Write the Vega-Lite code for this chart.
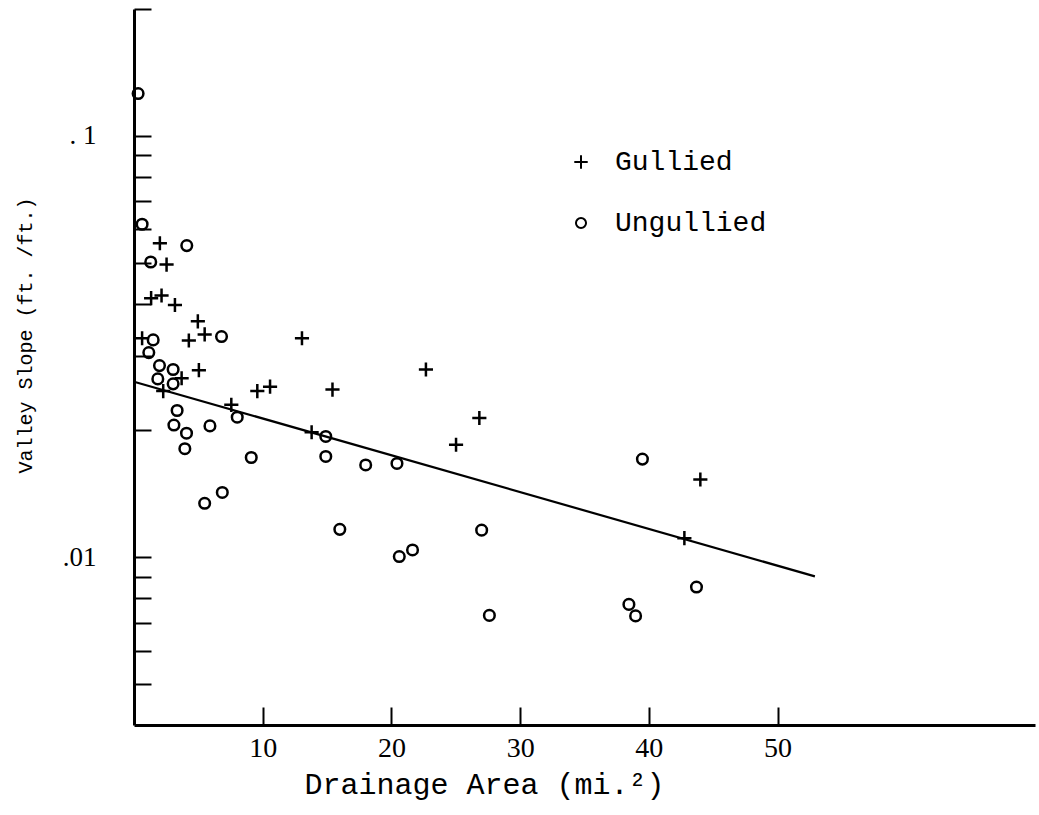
{
  "$schema": "https://vega.github.io/schema/vega-lite/v6.json",
  "width": 901,
  "height": 716,
  "autosize": {"type": "none"},
  "padding": {"left": 134, "top": 9, "right": 4, "bottom": 90},
  "background": "white",
  "config": {
    "view": {"stroke": null},
    "font": "Liberation Mono",
    "axis": {
      "grid": false,
      "domainColor": "black",
      "domainWidth": 3,
      "tickColor": "black",
      "tickWidth": 2,
      "labelColor": "black",
      "titleColor": "black",
      "labelFont": "Liberation Serif",
      "titleFont": "Liberation Mono",
      "titleFontWeight": "normal"
    }
  },
  "datasets": {
    "pts": [
      {"area": 2.01, "slope": 0.0556, "group": "Gullied"},
      {"area": 2.53, "slope": 0.0495, "group": "Gullied"},
      {"area": 1.33, "slope": 0.0412, "group": "Gullied"},
      {"area": 2.14, "slope": 0.0418, "group": "Gullied"},
      {"area": 3.18, "slope": 0.0397, "group": "Gullied"},
      {"area": 4.96, "slope": 0.0363, "group": "Gullied"},
      {"area": 4.26, "slope": 0.0327, "group": "Gullied"},
      {"area": 5.49, "slope": 0.0338, "group": "Gullied"},
      {"area": 0.63, "slope": 0.0331, "group": "Gullied"},
      {"area": 13.05, "slope": 0.0331, "group": "Gullied"},
      {"area": 3.7, "slope": 0.0266, "group": "Gullied"},
      {"area": 5.04, "slope": 0.0278, "group": "Gullied"},
      {"area": 2.27, "slope": 0.0248, "group": "Gullied"},
      {"area": 9.58, "slope": 0.0248, "group": "Gullied"},
      {"area": 10.57, "slope": 0.0254, "group": "Gullied"},
      {"area": 15.42, "slope": 0.025, "group": "Gullied"},
      {"area": 7.56, "slope": 0.023, "group": "Gullied"},
      {"area": 13.8, "slope": 0.0198, "group": "Gullied"},
      {"area": 22.68, "slope": 0.0279, "group": "Gullied"},
      {"area": 26.83, "slope": 0.0214, "group": "Gullied"},
      {"area": 25.02, "slope": 0.0185, "group": "Gullied"},
      {"area": 44.0, "slope": 0.0153, "group": "Gullied"},
      {"area": 42.76, "slope": 0.0111, "group": "Gullied"},
      {"area": 0.32, "slope": 0.126, "group": "Ungullied"},
      {"area": 0.63, "slope": 0.0617, "group": "Ungullied"},
      {"area": 4.1, "slope": 0.0549, "group": "Ungullied"},
      {"area": 1.3, "slope": 0.0502, "group": "Ungullied"},
      {"area": 6.8, "slope": 0.0334, "group": "Ungullied"},
      {"area": 1.49, "slope": 0.0328, "group": "Ungullied"},
      {"area": 1.15, "slope": 0.0306, "group": "Ungullied"},
      {"area": 1.98, "slope": 0.0285, "group": "Ungullied"},
      {"area": 3.04, "slope": 0.0279, "group": "Ungullied"},
      {"area": 1.85, "slope": 0.0265, "group": "Ungullied"},
      {"area": 3.04, "slope": 0.0258, "group": "Ungullied"},
      {"area": 3.35, "slope": 0.0223, "group": "Ungullied"},
      {"area": 8.02, "slope": 0.0215, "group": "Ungullied"},
      {"area": 3.1, "slope": 0.0206, "group": "Ungullied"},
      {"area": 5.9, "slope": 0.0205, "group": "Ungullied"},
      {"area": 4.08, "slope": 0.0197, "group": "Ungullied"},
      {"area": 14.9, "slope": 0.01935, "group": "Ungullied"},
      {"area": 3.95, "slope": 0.0181, "group": "Ungullied"},
      {"area": 9.11, "slope": 0.01725, "group": "Ungullied"},
      {"area": 14.9, "slope": 0.01735, "group": "Ungullied"},
      {"area": 18.0, "slope": 0.01656, "group": "Ungullied"},
      {"area": 20.43, "slope": 0.0167, "group": "Ungullied"},
      {"area": 39.5, "slope": 0.0171, "group": "Ungullied"},
      {"area": 6.86, "slope": 0.01425, "group": "Ungullied"},
      {"area": 5.49, "slope": 0.01343, "group": "Ungullied"},
      {"area": 15.99, "slope": 0.01165, "group": "Ungullied"},
      {"area": 27.01, "slope": 0.0116, "group": "Ungullied"},
      {"area": 21.64, "slope": 0.01041, "group": "Ungullied"},
      {"area": 20.61, "slope": 0.01004, "group": "Ungullied"},
      {"area": 43.7, "slope": 0.0085, "group": "Ungullied"},
      {"area": 38.45, "slope": 0.00773, "group": "Ungullied"},
      {"area": 38.97, "slope": 0.00726, "group": "Ungullied"},
      {"area": 27.61, "slope": 0.00728, "group": "Ungullied"}
    ],
    "fit": [
      {"area": 0, "slope": 0.0261},
      {"area": 52.9, "slope": 0.00901}
    ]
  },
  "encoding": {
    "x": {
      "field": "area",
      "type": "quantitative",
      "scale": {"domain": [0, 70], "nice": false, "zero": false},
      "axis": {
        "values": [10, 20, 30, 40, 50],
        "tickSize": -18,
        "labelFontSize": 28,
        "labelPadding": 27,
        "title": "Drainage Area (mi.²)",
        "titleFontSize": 30,
        "titleX": 350,
        "titleY": 68,
        "titleAlign": "center",
        "titleBaseline": "alphabetic"
      }
    },
    "y": {
      "field": "slope",
      "type": "quantitative",
      "scale": {"type": "log", "domain": [0.004, 0.2], "nice": false},
      "axis": {
        "values": [0.005, 0.006, 0.007, 0.008, 0.009, 0.01, 0.02, 0.03, 0.04, 0.05, 0.06, 0.07, 0.08, 0.09, 0.1, 0.2],
        "labelExpr": "datum.value == 0.1 ? '. 1' : (datum.value == 0.01 ? '.01' : '')",
        "tickSize": -17,
        "labelFontSize": 27,
        "labelPadding": 55,
        "title": "Valley Slope (ft. /ft.)",
        "titleFontSize": 20,
        "titleX": -109,
        "titleY": 326,
        "titleAlign": "center",
        "titleBaseline": "middle"
      }
    }
  },
  "layer": [
    {
      "data": {"name": "fit"},
      "mark": {"type": "line", "color": "black", "strokeWidth": 2.2},
      "encoding": {}
    },
    {
      "data": {"name": "pts"},
      "mark": {"type": "point", "filled": false, "color": "black", "strokeWidth": 2.5, "opacity": 1, "size": 200},
      "encoding": {
        "shape": {
          "field": "group",
          "type": "nominal",
          "scale": {
            "domain": ["Gullied", "Ungullied"],
            "range": ["M-1,0H1M0,-1V1", "M-0.75,0A0.75,0.75 0 1,1 0.75,0A0.75,0.75 0 1,1 -0.75,0Z"]
          },
          "legend": {
            "title": null,
            "orient": "none",
            "legendX": 433,
            "legendY": 139,
            "labelFontSize": 28,
            "labelFont": "Liberation Mono",
            "labelColor": "black",
            "rowPadding": 33,
            "labelOffset": 20,
            "symbolStrokeColor": "black",
            "symbolStrokeWidth": 2,
            "symbolSize": 180
          }
        }
      }
    }
  ]
}
